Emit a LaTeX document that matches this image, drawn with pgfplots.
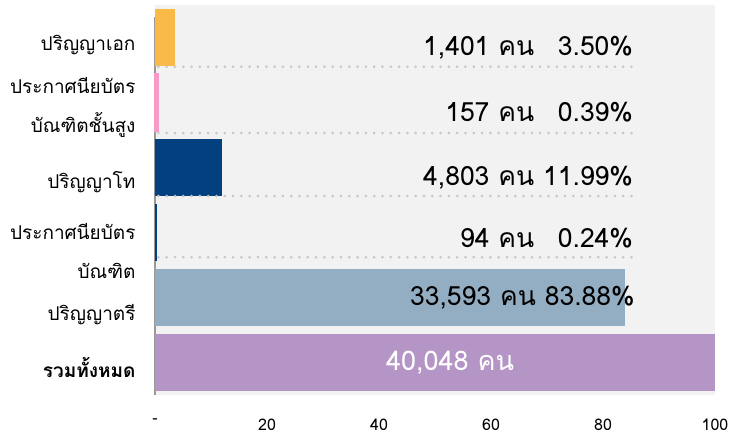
\documentclass[border=0pt]{standalone}
\usepackage{fontspec}
\setmainfont[Script=Thai]{Loma}
\usepackage{pgfplots}
\pgfplotsset{compat=1.18}
\definecolor{cOrange}{HTML}{F9BA48}
\definecolor{cPink}{HTML}{F79AC8}
\definecolor{cNavy}{HTML}{02407F}
\definecolor{cBlue}{HTML}{4472C4}
\definecolor{cSteel}{HTML}{93AEC3}
\definecolor{cPurple}{HTML}{B495C5}
\definecolor{cDots}{HTML}{C8C8C8}
\newcommand{\lab}[2]{#1 คน #2}
\tikzset{dots/.style={cDots, line width=3pt, line cap=round, dash pattern=on 0pt off 8.3pt}}
\begin{document}
\begin{tikzpicture}[x=1pt,y=1pt]
\useasboundingbox (0,0) rectangle (730,440);
\begin{axis}[
  at={(155pt,45pt)}, anchor=south west,
  scale only axis, width=560pt, height=390pt,
  xmin=0, xmax=100, ymin=-0.5, ymax=5.5, y dir=reverse,
  axis background/.style={fill=black!5},
  axis line style={draw=none},
  /pgf/number format/assume math mode=true,
  xtick={0,20,40,60,80,100}, xticklabels={-,20,40,60,80,100},
  xticklabel style={font=\fontsize{16}{16}\selectfont, yshift=-20pt},
  ytick={0.12,1.08,2.22,3.28,4.27,5.08},
  yticklabels={{ปริญญาเอก},{ประกาศนียบัตร\\บัณฑิตชั้นสูง},{ปริญญาโท},{ประกาศนียบัตร\\บัณฑิต},{ปริญญาตรี},{\bfseries รวมทั้งหมด}},
  yticklabel style={align=right, font=\fontsize{19}{39}\selectfont, xshift=-16pt},
  major tick length=0pt,
  bar width=0.87,
  clip=false,
]
\draw[gray!80, line width=1.5pt] (axis cs:0,-0.32) -- (axis cs:0,5.5);
\addplot[xbar, fill=cOrange, draw=none] coordinates {(3.50,0)};
\addplot[xbar, fill=cPink, draw=cPink, line width=3pt] coordinates {(0.39,1)};
\addplot[xbar, fill=cNavy, draw=none] coordinates {(11.99,2)};
\addplot[xbar, fill=cBlue, draw=cNavy, line width=1pt] coordinates {(0.24,3)};
\addplot[xbar, fill=cSteel, draw=none] coordinates {(83.88,4)};
\addplot[xbar, fill=cPurple, draw=none] coordinates {(100,5)};
\draw[dots] (axis cs:0.6,0.45) -- (axis cs:85.4,0.45);
\draw[dots] (axis cs:0.6,1.47) -- (axis cs:85.4,1.47);
\draw[dots] (axis cs:0.6,2.44) -- (axis cs:85.4,2.44);
\draw[dots] (axis cs:0.6,3.38) -- (axis cs:85.4,3.38);
\begin{scope}[font=\fontsize{26.5}{26.5}\selectfont]
\node[anchor=east] at (axis cs:86,0.15) {\lab{1,401}{\hphantom{1}3.50\%}};
\node[anchor=east] at (axis cs:86,1.15) {\lab{157}{\hphantom{1}0.39\%}};
\node[anchor=east] at (axis cs:86,2.15) {\lab{4,803}{11.99\%}};
\node[anchor=east] at (axis cs:86,3.08) {\lab{94}{\hphantom{1}0.24\%}};
\node[anchor=east] at (axis cs:86.3,4.0) {\lab{33,593}{83.88\%}};
\node[text=white, font=\fontsize{27}{27}\selectfont] at (axis cs:52.7,5.0) {40,048 คน};
\end{scope}
\end{axis}
\end{tikzpicture}
\end{document}
